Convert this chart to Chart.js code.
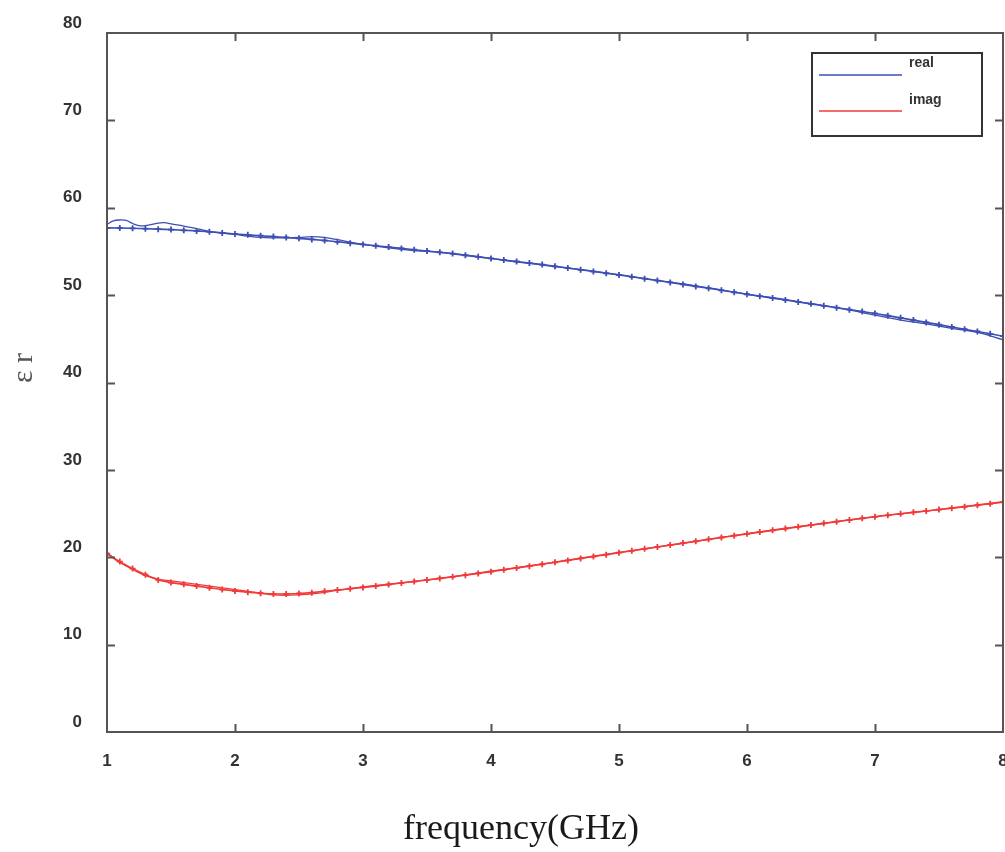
<!DOCTYPE html>
<html>
<head>
<meta charset="utf-8">
<script src="https://cdn.jsdelivr.net/npm/chart.js@4.4.0/dist/chart.umd.min.js"></script>
<style>
  html, body { margin: 0; padding: 0; background: #fff; overflow: hidden; }
  #wrap { width: 1005px; height: 852px; position: relative; }
  canvas { display: block; }
</style>
</head>
<body>
<div id="wrap"><canvas id="epsChart"></canvas></div>
<script>
// --- data ---
const freqFit = [
  1.0, 1.1, 1.2, 1.3, 1.4, 1.5, 1.6, 1.7, 1.8, 1.9,
  2.0, 2.1, 2.2, 2.3, 2.4, 2.5, 2.6, 2.7, 2.8, 2.9,
  3.0, 3.1, 3.2, 3.3, 3.4, 3.5, 3.6, 3.7, 3.8, 3.9,
  4.0, 4.1, 4.2, 4.3, 4.4, 4.5, 4.6, 4.7, 4.8, 4.9,
  5.0, 5.1, 5.2, 5.3, 5.4, 5.5, 5.6, 5.7, 5.8, 5.9,
  6.0, 6.1, 6.2, 6.3, 6.4, 6.5, 6.6, 6.7, 6.8, 6.9,
  7.0, 7.1, 7.2, 7.3, 7.4, 7.5, 7.6, 7.7, 7.8, 7.9, 8.0
];
const realFit = [
  57.7, 57.68, 57.65, 57.6, 57.55, 57.5, 57.42, 57.35, 57.25, 57.12,
  57.0, 56.9, 56.8, 56.7, 56.6, 56.5, 56.38, 56.25, 56.1, 55.95,
  55.8, 55.65, 55.5, 55.35, 55.2, 55.05, 54.9, 54.75, 54.55, 54.38,
  54.2, 54.02, 53.85, 53.67, 53.5, 53.3, 53.1, 52.9, 52.7, 52.5,
  52.3, 52.1, 51.88, 51.67, 51.45, 51.23, 51.0, 50.78, 50.55, 50.33,
  50.1, 49.88, 49.66, 49.44, 49.22, 49.0, 48.78, 48.56, 48.34, 48.12,
  47.9, 47.65, 47.4, 47.14, 46.88, 46.62, 46.36, 46.1, 45.84, 45.57, 45.3
];
const imagFit = [
  20.4, 19.5, 18.7, 18.0, 17.4, 17.1, 16.9, 16.7, 16.5, 16.3,
  16.15, 16.0, 15.88, 15.8, 15.8, 15.85, 15.95, 16.1, 16.25, 16.4,
  16.55, 16.7, 16.88, 17.05, 17.22, 17.4, 17.58, 17.76, 17.95, 18.15,
  18.35, 18.56, 18.77, 18.98, 19.2, 19.42, 19.64, 19.86, 20.08, 20.3,
  20.52, 20.74, 20.96, 21.18, 21.4, 21.62, 21.83, 22.05, 22.26, 22.47,
  22.68, 22.88, 23.08, 23.28, 23.48, 23.68, 23.88, 24.07, 24.26, 24.45,
  24.63, 24.8, 24.97, 25.14, 25.3, 25.46, 25.62, 25.78, 25.95, 26.12, 26.3
];

const freqRealMeas = [
  1.0, 1.05, 1.1, 1.15, 1.2, 1.25, 1.3, 1.4, 1.45, 1.5, 1.6, 1.7, 1.8, 1.9,
  2.0, 2.1, 2.2, 2.3, 2.4, 2.5, 2.6, 2.7, 2.8, 2.9, 3.0, 3.2, 3.4, 3.6, 3.8,
  4.0, 4.2, 4.4, 4.6, 4.8, 5.0, 5.2, 5.4, 5.6, 5.8, 6.0, 6.2, 6.4, 6.6, 6.8,
  7.0, 7.2, 7.4, 7.6, 7.8, 8.0
];
const realMeas = [
  58.1, 58.5, 58.6, 58.55, 58.2, 57.95, 57.95, 58.25, 58.3, 58.15, 57.9, 57.6, 57.3, 57.1,
  56.95, 56.75, 56.6, 56.55, 56.55, 56.6, 56.7, 56.6, 56.35, 56.05, 55.8, 55.4, 55.1, 54.9, 54.6,
  54.2, 53.8, 53.45, 53.1, 52.75, 52.35, 51.9, 51.5, 51.05, 50.6, 50.1, 49.7, 49.25, 48.8, 48.3,
  47.7, 47.15, 46.7, 46.2, 45.75, 44.9
];
const freqImagMeas = [
  1.0, 1.05, 1.1, 1.2, 1.3, 1.4, 1.5, 1.6, 1.7, 1.8, 1.9, 2.0, 2.1, 2.2, 2.3,
  2.4, 2.5, 2.6, 2.8, 3.0, 3.5, 4.0, 4.5, 5.0, 5.5, 6.0, 6.5, 7.0, 7.5, 8.0
];
const imagMeas = [
  20.6, 19.9, 19.4, 18.6, 17.9, 17.5, 17.3, 17.1, 16.9, 16.7, 16.5, 16.3, 16.1, 15.9, 15.7,
  15.65, 15.7, 15.8, 16.2, 16.6, 17.4, 18.4, 19.45, 20.55, 21.6, 22.7, 23.7, 24.65, 25.45, 26.35
];

const xTicks = [1, 2, 3, 4, 5, 6, 7, 8];
const yTicks = [0, 10, 20, 30, 40, 50, 60, 70, 80];

const BLUE = '#3d4fb2';
const RED = '#f03a3a';

function pairs(xs, ys) {
  return xs.map((x, i) => ({ x: x, y: ys[i] }));
}

// frame with inward ticks, legend box and axis titles
const decorations = {
  id: 'decorations',
  afterDraw(chart) {
    const ctx = chart.ctx;
    const a = chart.chartArea;
    const xs = chart.scales.x;
    const ys = chart.scales.y;
    const tl = 8;

    ctx.save();
    ctx.strokeStyle = '#555';
    ctx.lineWidth = 2;
    ctx.strokeRect(a.left, a.top, a.right - a.left, a.bottom - a.top);

    ctx.beginPath();
    xTicks.slice(1, -1).forEach(v => {
      const px = Math.round(xs.getPixelForValue(v)) + 0.5;
      ctx.moveTo(px, a.bottom); ctx.lineTo(px, a.bottom - tl);
      ctx.moveTo(px, a.top); ctx.lineTo(px, a.top + tl);
    });
    yTicks.slice(1, -1).forEach(v => {
      const py = Math.round(ys.getPixelForValue(v)) + 0.5;
      ctx.moveTo(a.left, py); ctx.lineTo(a.left + tl, py);
      ctx.moveTo(a.right, py); ctx.lineTo(a.right - tl, py);
    });
    ctx.stroke();

    // legend
    ctx.strokeStyle = '#333';
    ctx.lineWidth = 2;
    ctx.strokeRect(812, 53, 170, 83);
    const items = [
      { label: 'real', color: chart.data.datasets[0].borderColor, y: 75, ty: 63 },
      { label: 'imag', color: chart.data.datasets[2].borderColor, y: 111, ty: 100 }
    ];
    ctx.font = 'bold 14px "Liberation Sans", Arial, sans-serif';
    ctx.textBaseline = 'middle';
    ctx.textAlign = 'left';
    items.forEach(it => {
      ctx.strokeStyle = it.color;
      ctx.lineWidth = 1.6;
      ctx.beginPath();
      ctx.moveTo(819, it.y); ctx.lineTo(902, it.y);
      ctx.stroke();
      ctx.fillStyle = '#333';
      ctx.fillText(it.label, 909, it.ty);
    });

    // axis titles
    ctx.fillStyle = '#1a1a1a';
    ctx.font = '36px "Liberation Serif", "Times New Roman", serif';
    ctx.textAlign = 'center';
    ctx.fillText('frequency(GHz)', 521, 830);

    ctx.save();
    ctx.translate(24, 368);
    ctx.rotate(-Math.PI / 2);
    ctx.fillStyle = '#555';
    ctx.font = '30px "Liberation Serif", serif';
    ctx.fillText('ε r', 0, 0);
    ctx.restore();

    ctx.restore();
  }
};

const tickFont = { family: '"Liberation Sans", Arial, sans-serif', size: 17, weight: 'bold' };

new Chart(document.getElementById('epsChart'), {
  type: 'line',
  data: {
    datasets: [
      {
        label: 'real',
        data: pairs(freqFit, realFit),
        borderColor: BLUE,
        borderWidth: 1.6,
        pointStyle: 'cross',
        pointRadius: 3,
        pointBorderWidth: 1.8,
        pointBorderColor: BLUE,
        tension: 0
      },
      {
        label: 'real measured',
        data: pairs(freqRealMeas, realMeas),
        borderColor: BLUE,
        borderWidth: 1.3,
        pointRadius: 0,
        tension: 0.4
      },
      {
        label: 'imag',
        data: pairs(freqFit, imagFit),
        borderColor: RED,
        borderWidth: 1.6,
        pointStyle: 'cross',
        pointRadius: 3,
        pointBorderWidth: 1.8,
        pointBorderColor: RED,
        tension: 0
      },
      {
        label: 'imag measured',
        data: pairs(freqImagMeas, imagMeas),
        borderColor: RED,
        borderWidth: 1.3,
        pointRadius: 0,
        tension: 0.4
      }
    ]
  },
  options: {
    responsive: true,
    maintainAspectRatio: false,
    animation: false,
    layout: { padding: { top: 33, right: 2, left: 0, bottom: 0 }, autoPadding: false },
    plugins: {
      legend: { display: false },
      tooltip: { enabled: false }
    },
    scales: {
      x: {
        type: 'linear',
        min: 1,
        max: 8,
        afterBuildTicks: s => { s.ticks = xTicks.map(v => ({ value: v })); },
        afterFit: s => { s.height = 120; s.paddingLeft = 0; s.paddingRight = 0; },
        grid: { display: false },
        border: { display: false },
        ticks: { font: tickFont, color: '#333', padding: 11, maxRotation: 0 }
      },
      y: {
        min: 0,
        max: 80,
        afterBuildTicks: s => { s.ticks = yTicks.map(v => ({ value: v })); },
        afterFit: s => { s.width = 107; s.paddingTop = 0; s.paddingBottom = 0; },
        grid: { display: false },
        border: { display: false },
        ticks: { font: tickFont, color: '#333', padding: 17, labelOffset: -10 }
      }
    }
  },
  plugins: [decorations]
});
</script>
</body>
</html>
